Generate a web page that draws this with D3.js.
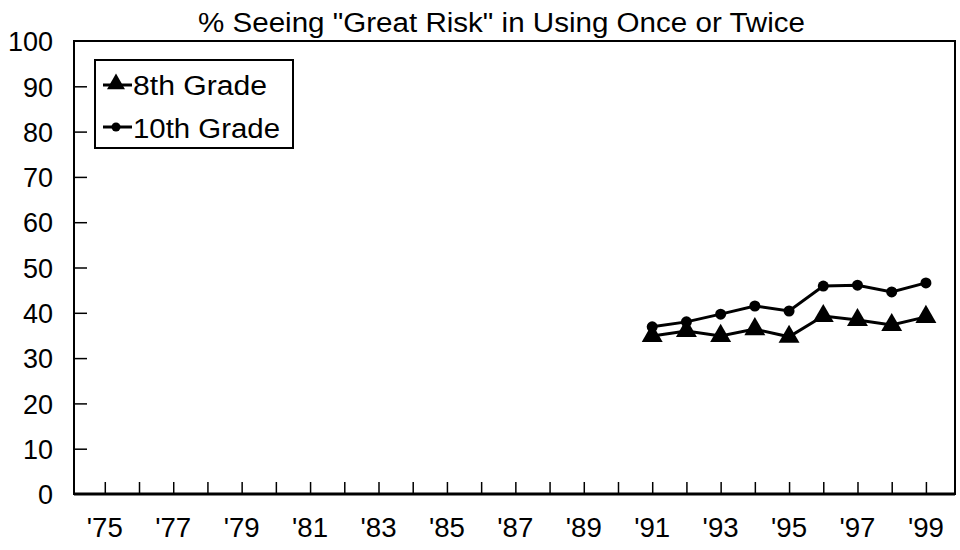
<!DOCTYPE html>
<html><head><meta charset="utf-8">
<script src="https://cdn.jsdelivr.net/npm/d3@7"></script>
<style>body{margin:0;background:#fff}svg{display:block}text{font-family:"Liberation Sans",Arial,sans-serif;fill:#000}</style>
</head><body>
<svg id="c" width="960" height="550"></svg>
<script>
const years = [91, 92, 93, 94, 95, 96, 97, 98, 99];
const grade8 = [34.9, 36.0, 34.9, 36.4, 34.7, 39.3, 38.4, 37.3, 39.1];
const grade10 = [36.9, 38.0, 39.7, 41.5, 40.4, 45.9, 46.1, 44.6, 46.6];
const xTickYears = d3.range(75, 100);
const xLabelYears = [75, 77, 79, 81, 83, 85, 87, 89, 91, 93, 95, 97, 99];
const yTicks = [0, 10, 20, 30, 40, 50, 60, 70, 80, 90, 100];
const title = '% Seeing "Great Risk" in Using Once or Twice';
const seriesNames = ["8th Grade", "10th Grade"];

const svg = d3.select("#c");
const L = 74, R = 955, T = 41, B = 494;
const x = d3.scaleLinear().domain([74.1, 99.85]).range([L, R]);
const y = d3.scaleLinear().domain([0, 100]).range([B, T]);

// frame
svg.append("rect").attr("x", L).attr("y", T).attr("width", R - L).attr("height", B - T)
  .attr("fill", "none").attr("stroke", "#000").attr("stroke-width", 2);
svg.append("line").attr("x1", L).attr("x2", R).attr("y1", B).attr("y2", B)
  .attr("stroke", "#000").attr("stroke-width", 3);

// y axis (ticks inward)
const yAxis = d3.axisLeft(y).tickValues(yTicks).tickSize(-13).tickPadding(21).tickFormat(d3.format("d"));
const gy = svg.append("g").attr("transform", `translate(${L},0)`).call(yAxis);
gy.select(".domain").remove();
gy.selectAll(".tick line").attr("stroke", "#000").attr("stroke-width", 1.5);
gy.selectAll(".tick text").style("font-size", "27px").attr("dy", "0.36em");
gy.selectAll(".tick").filter(d => d === 100 || d === 0).select("line").remove();

// x axis ticks inward
const xAxis = d3.axisBottom(x).tickValues(xTickYears).tickSize(-12).tickFormat("");
const gx = svg.append("g").attr("transform", `translate(0,${B})`).call(xAxis);
gx.select(".domain").remove();
gx.selectAll(".tick line").attr("stroke", "#000").attr("stroke-width", 1.5);
svg.append("g").selectAll("text").data(xLabelYears).join("text")
  .attr("x", d => x(d)).attr("y", 537).attr("text-anchor", "middle")
  .style("font-size", "27px").attr("textLength", 36).attr("lengthAdjust", "spacingAndGlyphs")
  .text(d => "'" + d);

// title
svg.append("text").attr("x", 198).attr("y", 32)
  .style("font-size", "27px").attr("textLength", 607).attr("lengthAdjust", "spacingAndGlyphs").text(title);

// lines
const line = d3.line().x((d, i) => x(years[i])).y(d => y(d));
svg.append("path").datum(grade10).attr("d", line).attr("fill", "none").attr("stroke", "#000").attr("stroke-width", 3);
svg.append("path").datum(grade8).attr("d", line).attr("fill", "none").attr("stroke", "#000").attr("stroke-width", 3);

const tri = d3.symbol().type(d3.symbolTriangle).size(190);
svg.append("g").selectAll("path").data(grade8).join("path")
  .attr("transform", (d, i) => `translate(${x(years[i])},${y(d)})`).attr("d", tri).attr("fill", "#000");
svg.append("g").selectAll("circle").data(grade10).join("circle")
  .attr("cx", (d, i) => x(years[i])).attr("cy", d => y(d)).attr("r", 5.5).attr("fill", "#000");

// legend
svg.append("rect").attr("x", 95).attr("y", 60).attr("width", 198).attr("height", 88)
  .attr("fill", "#fff").attr("stroke", "#000").attr("stroke-width", 2);
const lg = svg.append("g");
lg.append("line").attr("x1", 103).attr("x2", 132).attr("y1", 85).attr("y2", 85).attr("stroke", "#000").attr("stroke-width", 3);
lg.append("path").attr("transform", "translate(116,84)").attr("d", d3.symbol().type(d3.symbolTriangle).size(140)).attr("fill", "#000");
lg.append("text").attr("x", 133).attr("y", 95).style("font-size", "27px")
  .attr("textLength", 134).attr("lengthAdjust", "spacingAndGlyphs").text(seriesNames[0]);
lg.append("line").attr("x1", 103).attr("x2", 132).attr("y1", 127).attr("y2", 127).attr("stroke", "#000").attr("stroke-width", 3);
lg.append("circle").attr("cx", 116).attr("cy", 127).attr("r", 4.5).attr("fill", "#000");
lg.append("text").attr("x", 133).attr("y", 138).style("font-size", "27px")
  .attr("textLength", 147).attr("lengthAdjust", "spacingAndGlyphs").text(seriesNames[1]);
</script>
</body></html>
